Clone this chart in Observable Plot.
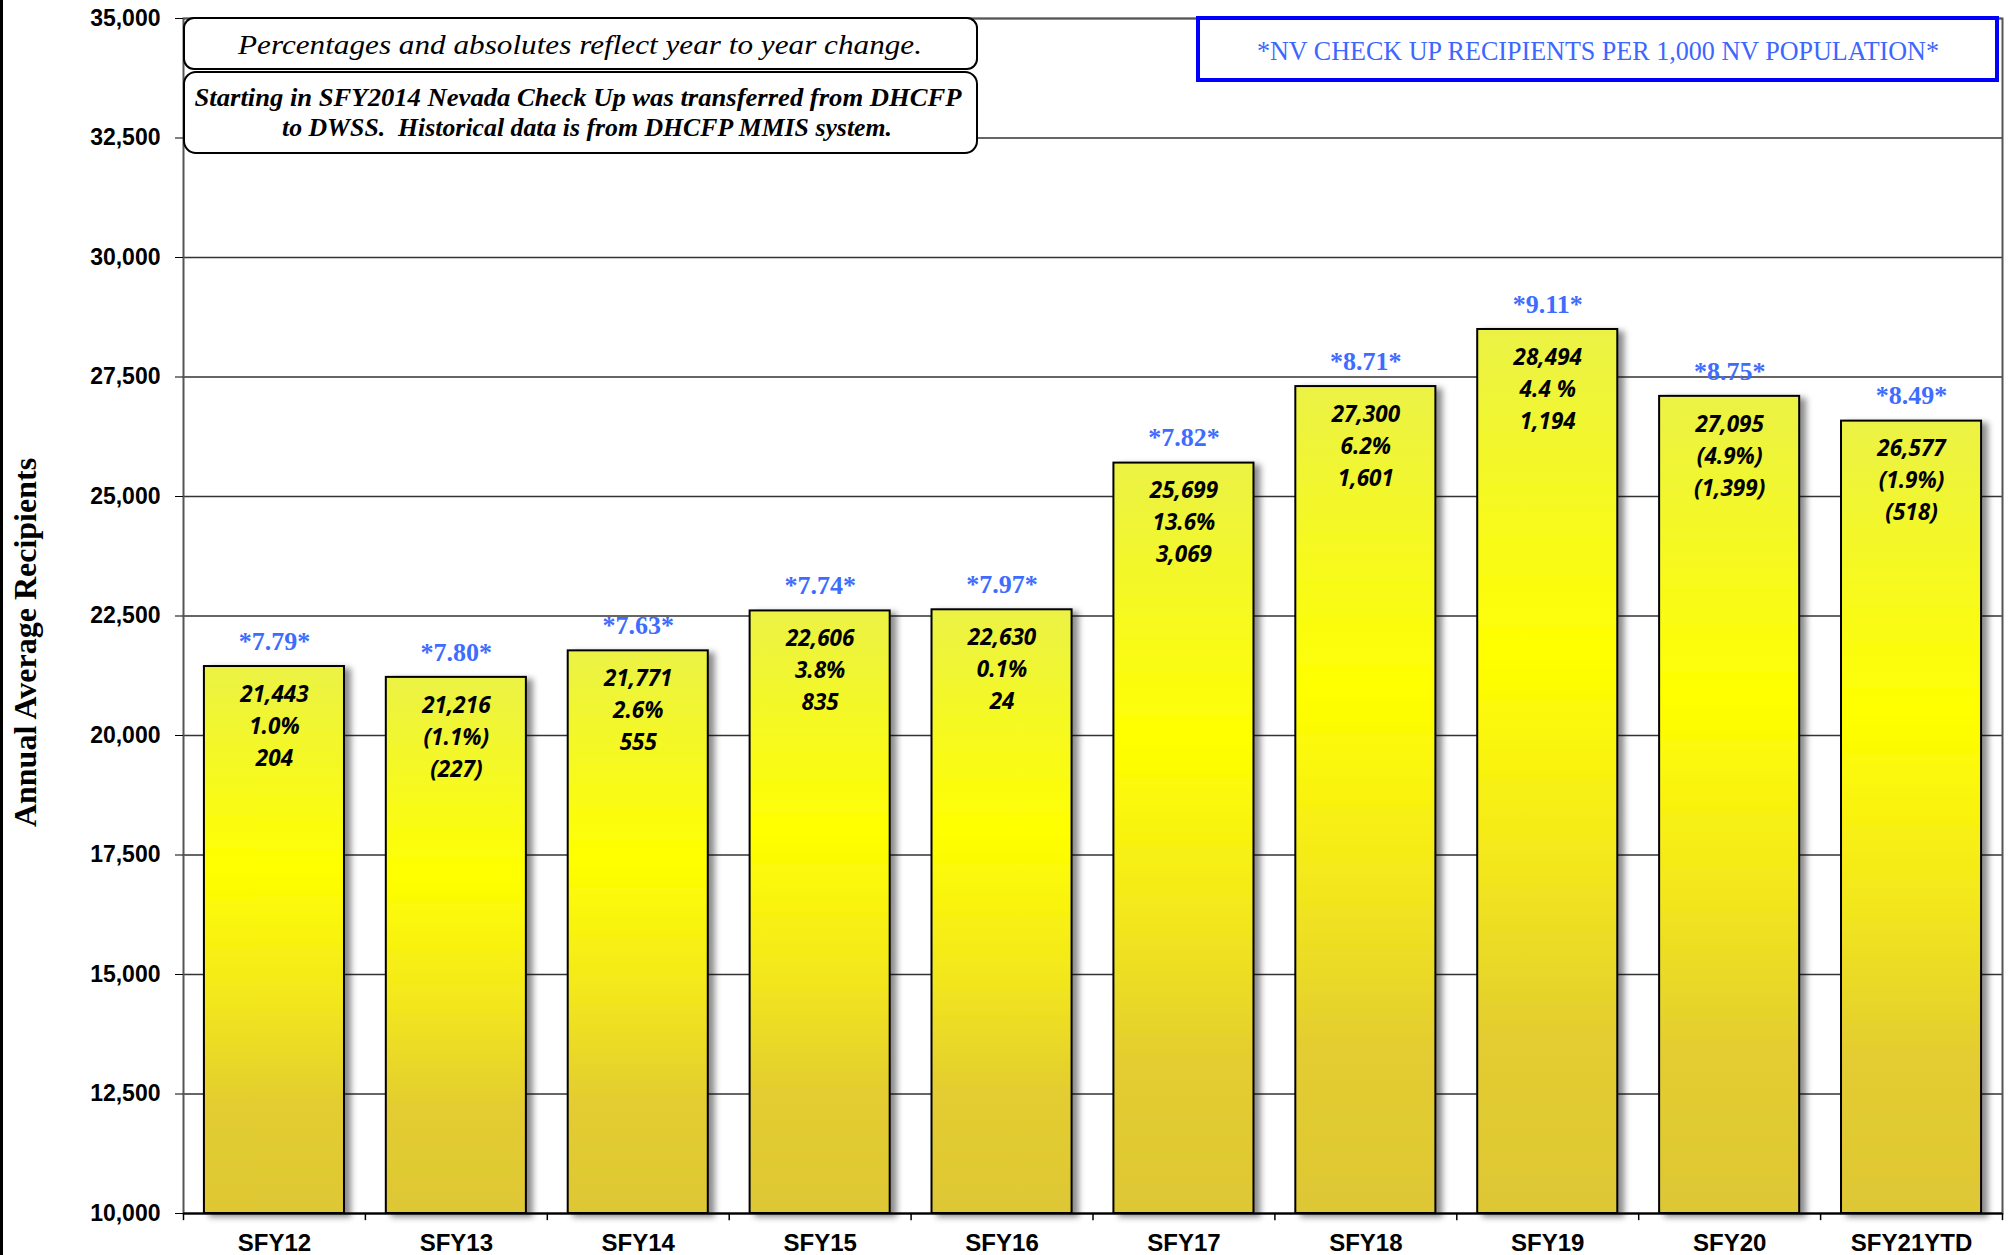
<!DOCTYPE html>
<html><head><meta charset="utf-8">
<script src="https://cdn.jsdelivr.net/npm/d3@7"></script>
<script src="https://cdn.jsdelivr.net/npm/@observablehq/plot@0.6"></script>
<style>
body{margin:0;background:#fff;}
#wrap{position:relative;width:2013px;height:1255px;overflow:hidden;background:#fff;}
#leftline{position:absolute;left:0;top:0;width:3px;height:1255px;background:#000;z-index:2;}
#wrap svg{position:absolute;left:0;top:0;}
</style></head><body>
<div id="wrap"><div id="leftline"></div></div>
<script>
// ---- data ----
const categories = ["SFY12","SFY13","SFY14","SFY15","SFY16","SFY17","SFY18","SFY19","SFY20","SFY21YTD"];
const recipients = [21443, 21216, 21771, 22606, 22630, 25699, 27300, 28494, 27095, 26577];
const rates = ["7.79","7.80","7.63","7.74","7.97","7.82","8.71","9.11","8.75","8.49"];
const pctChange = ["1.0%","(1.1%)","2.6%","3.8%","0.1%","13.6%","6.2%","4.4 %","(4.9%)","(1.9%)"];
const absChange = ["204","(227)","555","835","24","3,069","1,601","1,194","(1,399)","(518)"];
const yTicks = [10000, 12500, 15000, 17500, 20000, 22500, 25000, 27500, 30000, 32500, 35000];
const yLabel = "Annual Average Recipients";
const noteTop = "Percentages and absolutes reflect year to year change.";
const noteLines = ["Starting in SFY2014 Nevada Check Up was transferred from DHCFP", "to DWSS.  Historical data is from DHCFP MMIS system."];
const rateNote = "*NV CHECK UP RECIPIENTS PER 1,000 NV POPULATION*";

const data = categories.map((c, i) => ({cat: c, value: recipients[i], rate: rates[i], pct: pctChange[i], abs: absChange[i]}));

const W = 2013, H = 1255, mL = 183, mR = 11, mT = 18, mB = 42;
const step = (W - mL - mR) / categories.length;
const serif = "'Liberation Serif', 'Times New Roman', serif";
const sans = "'Liberation Sans', Arial, sans-serif";
const inner = "'Open Sans', 'DejaVu Sans', sans-serif";
const innerSize = 22.5;

const chart = Plot.plot({
  width: W, height: H,
  marginLeft: mL, marginRight: mR, marginTop: mT, marginBottom: mB,
  style: {fontFamily: sans, background: "white", overflow: "visible"},
  x: {domain: categories, paddingInner: 0.23, paddingOuter: 0.115, round: false},
  y: {domain: [10000, 35000]},
  marks: [
    Plot.gridY(yTicks, {stroke: "#333", strokeOpacity: 1, strokeWidth: 1.3}),
    Plot.frame({stroke: "#555", strokeWidth: 2}),
    Plot.barY(data, {x: "cat", y1: 10000, y2: "value", fill: "url(#barGrad)", stroke: "#000", strokeWidth: 2}),
    Plot.ruleY([10000], {stroke: "#000", strokeWidth: 2}),
    Plot.ruleX(categories, {x: d => d, dx: -step / 2, y1: 10000, y2: 9850, stroke: "#000", strokeWidth: 1.5}),
    Plot.ruleX(categories.slice(-1), {x: d => d, dx: step / 2, y1: 10000, y2: 9850, stroke: "#000", strokeWidth: 1.5}),
    Plot.axisY({ticks: yTicks, tickFormat: d3.format(","), tickSize: 8, tickPadding: 15, fontSize: 23, fontWeight: "bold", label: null, stroke: "#000"}),
    Plot.axisX({tickSize: 0, tickPadding: 20, fontSize: 24, fontWeight: "bold", label: null}),
    Plot.text(data, {x: "cat", y: "value", text: d => `*${d.rate}*`, dy: -25, fontSize: 26, fontWeight: "bold", fontFamily: serif, fill: "#3d6cff"}),
    Plot.text(data, {x: "cat", y: "value", text: d => d.value.toLocaleString("en-US"), dy: 28, fontSize: innerSize, fontWeight: "bold", fontStyle: "italic", fontFamily: inner, fill: "#000"}),
    Plot.text(data, {x: "cat", y: "value", text: "pct", dy: 60, fontSize: innerSize, fontWeight: "bold", fontStyle: "italic", fontFamily: inner, fill: "#000"}),
    Plot.text(data, {x: "cat", y: "value", text: "abs", dy: 92, fontSize: innerSize, fontWeight: "bold", fontStyle: "italic", fontFamily: inner, fill: "#000"}),
    Plot.text([yLabel], {frameAnchor: "left", textAnchor: "middle", text: d => d, rotate: -90, dx: -158, dy: 26.5, fontSize: 32, fontWeight: "bold", fontFamily: serif, fill: "#000"})
  ]
});

document.getElementById("wrap").appendChild(chart);

const svg = d3.select(chart);
const defs = svg.insert("defs", ":first-child");
const grad = defs.append("linearGradient").attr("id", "barGrad")
  .attr("x1", 0).attr("y1", 0).attr("x2", 0).attr("y2", 1);
[[0, "#ebf245"], [0.37, "#ffff00"], [0.6, "#f3e81c"], [0.8, "#e3cd30"], [1, "#dec734"]]
  .forEach(([o, c]) => grad.append("stop").attr("offset", o).attr("stop-color", c));
const flt = defs.append("filter").attr("id", "shadow")
  .attr("x", "-20%").attr("y", "-5%").attr("width", "150%").attr("height", "115%");
flt.append("feDropShadow").attr("dx", 6).attr("dy", 3).attr("stdDeviation", 3)
  .attr("flood-color", "#000").attr("flood-opacity", 0.45);
svg.selectAll('g[aria-label="bar"]').attr("filter", "url(#shadow)");

// annotation boxes
const ann = svg.append("g");
ann.append("rect").attr("x", 184).attr("y", 18).attr("width", 793).attr("height", 51).attr("rx", 10)
  .attr("fill", "#fff").attr("stroke", "#000").attr("stroke-width", 2);
ann.append("text").attr("x", 580).attr("y", 54).attr("text-anchor", "middle")
  .attr("font-family", serif).attr("font-style", "italic").attr("font-size", 27)
  .attr("textLength", 684).attr("lengthAdjust", "spacingAndGlyphs").attr("fill", "#000").text(noteTop);
ann.append("rect").attr("x", 184).attr("y", 72).attr("width", 793).attr("height", 81).attr("rx", 12)
  .attr("fill", "#fff").attr("stroke", "#000").attr("stroke-width", 2);
ann.append("text").attr("x", 578).attr("y", 106).attr("text-anchor", "middle")
  .attr("font-family", serif).attr("font-style", "italic").attr("font-weight", "bold").attr("font-size", 26)
  .attr("textLength", 767).attr("lengthAdjust", "spacingAndGlyphs").attr("fill", "#000").text(noteLines[0]);
ann.append("text").attr("x", 587).attr("y", 136).attr("text-anchor", "middle").attr("xml:space", "preserve")
  .style("white-space", "pre")
  .attr("font-family", serif).attr("font-style", "italic").attr("font-weight", "bold").attr("font-size", 26)
  .attr("textLength", 610).attr("lengthAdjust", "spacingAndGlyphs").attr("fill", "#000").text(noteLines[1]);
ann.append("rect").attr("x", 1198).attr("y", 18).attr("width", 799).attr("height", 62)
  .attr("fill", "#fff").attr("stroke", "#0000ff").attr("stroke-width", 4);
ann.append("text").attr("x", 1598).attr("y", 60).attr("text-anchor", "middle")
  .attr("font-family", serif).attr("font-size", 27)
  .attr("textLength", 682).attr("lengthAdjust", "spacingAndGlyphs").attr("fill", "#3d66ff").text(rateNote);
</script>
</body></html>
